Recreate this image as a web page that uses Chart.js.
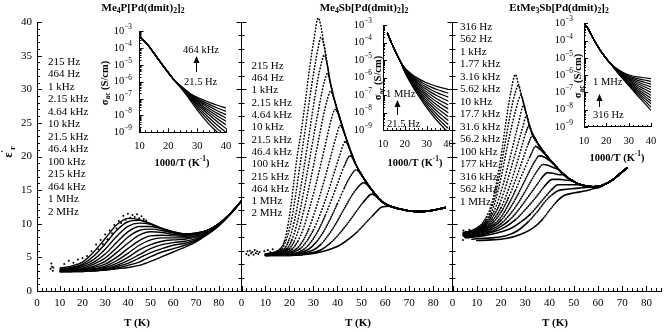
<!DOCTYPE html>
<html>
<head>
<meta charset="utf-8">
<script src="https://cdn.jsdelivr.net/npm/chart.js@4.4.0/dist/chart.umd.min.js"></script>
<style>
  html, body { margin: 0; padding: 0; background: #fff; }
  #wrap { position: relative; width: 665px; height: 332px; }
  #wrap canvas { position: absolute; left: 0; top: 0; }
</style>
</head>
<body>
<div id="wrap">
  <canvas id="main1" width="665" height="332"></canvas>
  <canvas id="main2" width="665" height="332"></canvas>
  <canvas id="main3" width="665" height="332"></canvas>
  <canvas id="inset1" width="665" height="332"></canvas>
  <canvas id="inset2" width="665" height="332"></canvas>
  <canvas id="inset3" width="665" height="332"></canvas>
</div>
<script>
// ---------- shared axis values ----------
const tTicks = [0, 10, 20, 30, 40, 50, 60, 70, 80];
const epsTicks = [0, 5, 10, 15, 20, 25, 30, 35, 40];
const invTTicks = [10, 20, 30, 40];
const sigmaDecades = [-9, -8, -7, -6, -5, -4, -3];

// ---------- Me4P[Pd(dmit)2]2 ----------
const pFreqs = ['215 Hz', '464 Hz', '1 kHz', '2.15 kHz', '4.64 kHz', '10 kHz', '21.5 kHz',
  '46.4 kHz', '100 kHz', '215 kHz', '464 kHz', '1 MHz', '2 MHz'];
const pTemps = [10, 15, 20, 25, 30, 35, 40, 45, 50, 55, 60, 65, 70, 75, 80, 85, 90];
const pEps = [
  [3.4, 3.7, 4.3, 5.8, 7.8, 9.8, 10.8, 10.6, 10.0, 9.3, 8.7, 8.4, 8.5, 9.0, 10.0, 11.5, 13.4],
  [3.3, 3.5, 4.0, 5.2, 7.0, 9.0, 10.3, 10.5, 10.0, 9.3, 8.8, 8.5, 8.6, 9.0, 10.0, 11.5, 13.4],
  [3.2, 3.4, 3.8, 4.7, 6.2, 8.1, 9.6, 10.1, 9.9, 9.3, 8.8, 8.5, 8.6, 9.0, 10.0, 11.5, 13.4],
  [3.1, 3.3, 3.6, 4.3, 5.5, 7.2, 8.8, 9.6, 9.6, 9.2, 8.7, 8.5, 8.6, 9.0, 10.0, 11.5, 13.4],
  [3.1, 3.2, 3.4, 4.0, 4.9, 6.4, 8.0, 9.0, 9.2, 9.0, 8.6, 8.4, 8.5, 9.0, 10.0, 11.5, 13.4],
  [3.0, 3.1, 3.3, 3.7, 4.4, 5.7, 7.1, 8.3, 8.8, 8.7, 8.4, 8.3, 8.5, 9.0, 10.0, 11.5, 13.4],
  [3.0, 3.0, 3.2, 3.5, 4.0, 5.0, 6.3, 7.5, 8.2, 8.3, 8.2, 8.1, 8.4, 8.9, 9.9, 11.5, 13.4],
  [3.0, 3.0, 3.1, 3.3, 3.7, 4.5, 5.6, 6.8, 7.6, 7.9, 7.9, 7.9, 8.2, 8.8, 9.9, 11.5, 13.4],
  [2.9, 3.0, 3.0, 3.2, 3.5, 4.1, 5.0, 6.1, 6.9, 7.4, 7.6, 7.7, 8.0, 8.7, 9.8, 11.4, 13.4],
  [2.9, 2.9, 3.0, 3.1, 3.3, 3.8, 4.5, 5.4, 6.3, 6.9, 7.2, 7.4, 7.8, 8.6, 9.8, 11.4, 13.4],
  [2.9, 2.9, 3.0, 3.0, 3.2, 3.6, 4.1, 4.9, 5.7, 6.3, 6.8, 7.1, 7.6, 8.5, 9.7, 11.4, 13.4],
  [2.9, 2.9, 2.9, 3.0, 3.1, 3.4, 3.8, 4.3, 5.1, 5.8, 6.3, 6.8, 7.5, 8.4, 9.7, 11.4, 13.4],
  [2.9, 2.9, 2.9, 3.0, 3.1, 3.3, 3.5, 3.8, 4.4, 5.1, 5.8, 6.5, 7.3, 8.4, 9.7, 11.4, 13.4]
];
// scattered low-frequency points (noise around the 215 Hz curve and below 8 K)
const pNoise = [[6, 3.3], [6.3, 4.1], [6.6, 3.6], [7, 3.0], [7.2, 3.5], [12, 4.0], [14, 4.5], [16, 4.2],
  [18, 4.7], [20, 4.9], [22, 5.2], [24, 5.9], [26, 6.9], [27, 6.2], [28, 7.6], [29, 7.0], [30, 8.4],
  [31, 7.7], [32, 9.0], [33, 8.6], [34, 9.8], [35, 9.3], [36, 10.4], [37, 10.1], [38, 11.2], [39, 10.6],
  [40, 11.5], [41, 10.9], [42, 11.3], [43, 11.0], [44, 11.4], [45, 10.8], [46, 11.1], [47, 10.7], [48, 10.5]];
const pInvT = [10, 13, 16, 19, 22, 25, 28, 31, 34, 37, 40];
const pLogSigma = [
  [-3.30, -3.85, -4.55, -5.25, -5.90, -6.50, -7.20, -7.90, -8.50, -9.00, -9.50],
  [-3.30, -3.85, -4.55, -5.25, -5.90, -6.48, -7.12, -7.75, -8.30, -8.80, -9.25],
  [-3.30, -3.85, -4.55, -5.25, -5.90, -6.46, -7.05, -7.62, -8.12, -8.58, -9.00],
  [-3.30, -3.85, -4.55, -5.25, -5.90, -6.45, -7.00, -7.50, -7.95, -8.38, -8.78],
  [-3.30, -3.85, -4.55, -5.25, -5.90, -6.43, -6.95, -7.40, -7.82, -8.20, -8.55],
  [-3.30, -3.85, -4.55, -5.25, -5.90, -6.42, -6.90, -7.32, -7.70, -8.04, -8.35],
  [-3.30, -3.85, -4.55, -5.25, -5.90, -6.40, -6.86, -7.24, -7.57, -7.88, -8.15],
  [-3.30, -3.85, -4.55, -5.25, -5.90, -6.38, -6.82, -7.16, -7.45, -7.72, -7.96],
  [-3.30, -3.85, -4.55, -5.25, -5.90, -6.37, -6.78, -7.08, -7.33, -7.56, -7.76],
  [-3.30, -3.85, -4.55, -5.25, -5.90, -6.35, -6.74, -7.00, -7.21, -7.40, -7.56]
];

// ---------- Me4Sb[Pd(dmit)2]2 ----------
const sbFreqs = ['215 Hz', '464 Hz', '1 kHz', '2.15 kHz', '4.64 kHz', '10 kHz', '21.5 kHz',
  '46.4 kHz', '100 kHz', '215 kHz', '464 kHz', '1 MHz', '2 MHz'];
// [T, eps] from 10 K up to each peak
const sbRise = [
  [[10, 5.5], [14, 5.8], [16, 6.2], [18, 7.5], [20.2, 11.6], [21.6, 15.5], [23, 19.5], [24.8, 23.5], [26.7, 28.4], [28.5, 33.4], [30.2, 37.4], [32, 40.6]],
  [[10, 5.5], [14, 5.7], [17, 6.3], [19, 8.0], [21, 10.8], [22.8, 14.8], [24.5, 19.0], [26.5, 23.8], [28.5, 28.8], [30.5, 33.3], [32, 36.2], [33.1, 37.7]],
  [[10, 5.5], [15, 5.7], [18, 6.3], [20, 7.8], [22, 10.3], [24, 14.0], [26, 18.2], [28, 22.8], [30, 27.5], [32, 31.8], [33.4, 34.0], [34.4, 35.1]],
  [[10, 5.4], [15, 5.6], [19, 6.3], [21, 7.6], [23, 9.8], [25, 13.0], [27, 16.8], [29, 20.8], [31, 24.8], [33, 28.6], [34.6, 31.2], [35.8, 32.3]],
  [[10, 5.4], [16, 5.6], [20, 6.3], [22, 7.4], [24, 9.3], [26, 12.0], [28, 15.2], [30, 18.6], [32, 22.2], [34, 25.8], [35.8, 28.5], [37.1, 29.7]],
  [[10, 5.4], [16, 5.5], [21, 6.2], [23.5, 7.4], [26, 9.5], [28.5, 12.5], [31, 15.8], [33.5, 19.5], [35.5, 22.6], [37.5, 25.6], [39, 27.0]],
  [[10, 5.4], [17, 5.5], [23, 6.3], [25.5, 7.4], [28, 9.2], [30.5, 11.7], [33, 14.6], [35.5, 17.7], [37.5, 20.4], [39.5, 23.0], [41.1, 24.6]],
  [[10, 5.4], [18, 5.5], [24.5, 6.3], [27, 7.3], [30, 9.1], [33, 11.6], [36, 14.6], [38.5, 17.4], [41, 20.2], [43.2, 22.2]],
  [[10, 5.3], [19, 5.4], [26, 6.2], [29, 7.3], [32, 9.0], [35, 11.3], [38, 14.0], [40.5, 16.4], [43, 18.7], [45.3, 20.1]],
  [[10, 5.3], [20, 5.4], [28, 6.2], [31, 7.2], [34, 8.7], [37, 10.7], [40, 13.0], [43, 15.4], [45.5, 17.1], [47.7, 18.0]],
  [[10, 5.3], [20, 5.4], [30, 6.1], [33, 6.9], [36, 8.2], [39, 9.8], [42, 11.7], [45, 13.6], [48, 15.2], [50.9, 16.1]],
  [[10, 5.3], [20, 5.3], [28, 5.6], [33, 6.1], [37, 7.1], [41, 8.6], [45, 10.4], [48, 11.9], [51, 13.3], [54.4, 14.4]],
  [[10, 5.3], [20, 5.3], [30, 5.6], [36, 6.1], [41, 6.8], [45, 7.8], [48, 8.7], [52, 10.2], [55, 11.3], [58.6, 12.5]]
];
// common high-temperature side that all curves fall onto after their peak
const sbTail = [[33, 39.6], [34.4, 36.6], [35.8, 33.6], [37.1, 30.9], [39, 28.1], [41.1, 25.6], [43.2, 23.2],
  [45.3, 21.0], [47.7, 18.8], [50.9, 16.8], [54.4, 15.0], [58.6, 13.3], [62, 12.6], [66, 12.2], [70, 11.9],
  [75, 11.8], [80, 12.0], [85, 12.4]];
const sbNoise = [[2, 5.5], [2.5, 5.9], [3, 5.3], [3.5, 6.0], [4, 5.6], [4.5, 5.8], [5, 5.4], [5.5, 6.1],
  [6, 5.6], [6.5, 5.9], [7, 5.5], [7.5, 5.8], [9.5, 5.9], [11, 6.1], [12, 5.8], [13, 6.2], [15, 6.0]];
const sbInvT = [12, 14, 16, 18, 20, 23, 26, 29, 32, 35, 38, 40];
const sbLogSigma = [
  [-3.45, -4.05, -4.60, -5.10, -5.70, -6.40, -7.00, -7.55, -8.05, -8.50, -8.90, -9.15],
  [-3.45, -4.05, -4.60, -5.10, -5.67, -6.32, -6.91, -7.43, -7.90, -8.32, -8.69, -8.92],
  [-3.45, -4.05, -4.60, -5.10, -5.64, -6.25, -6.82, -7.31, -7.75, -8.14, -8.48, -8.70],
  [-3.45, -4.05, -4.60, -5.10, -5.62, -6.20, -6.73, -7.19, -7.60, -7.96, -8.27, -8.47],
  [-3.45, -4.05, -4.60, -5.10, -5.60, -6.15, -6.65, -7.08, -7.45, -7.78, -8.06, -8.25],
  [-3.45, -4.05, -4.60, -5.10, -5.57, -6.10, -6.56, -6.96, -7.30, -7.60, -7.86, -8.02],
  [-3.45, -4.05, -4.60, -5.10, -5.55, -6.05, -6.48, -6.84, -7.15, -7.42, -7.65, -7.80],
  [-3.45, -4.05, -4.60, -5.10, -5.53, -6.00, -6.39, -6.72, -7.00, -7.24, -7.44, -7.57],
  [-3.45, -4.05, -4.60, -5.10, -5.51, -5.95, -6.31, -6.60, -6.85, -7.06, -7.24, -7.35],
  [-3.45, -4.05, -4.60, -5.10, -5.49, -5.90, -6.22, -6.49, -6.70, -6.88, -7.03, -7.12],
  [-3.45, -4.05, -4.60, -5.10, -5.47, -5.85, -6.14, -6.37, -6.55, -6.70, -6.82, -6.90],
  [-3.45, -4.05, -4.60, -5.10, -5.45, -5.80, -6.05, -6.25, -6.40, -6.52, -6.62, -6.68]
];

// ---------- EtMe3Sb[Pd(dmit)2]2 ----------
const etFreqs = ['316 Hz', '562 Hz', '1 kHz', '1.77 kHz', '3.16 kHz', '5.62 kHz', '10 kHz', '17.7 kHz',
  '31.6 kHz', '56.2 kHz', '100 kHz', '177 kHz', '316 kHz', '562 kHz', '1 MHz'];
const etRise = [
  [[4.5, 8.7], [8, 9.0], [11, 9.6], [14, 11.0], [16, 12.8], [18, 15.8], [20, 20.0], [22, 25.0], [24, 29.5], [26, 32.2]],
  [[4.5, 8.6], [8, 8.9], [11, 9.4], [14, 10.6], [16, 12.2], [18, 14.8], [20, 18.4], [22, 22.6], [24, 26.6], [25.8, 29.4], [27.3, 30.6]],
  [[4.5, 8.6], [8, 8.8], [11, 9.3], [14, 10.3], [16, 11.6], [18, 13.8], [20, 16.8], [22, 20.4], [24, 23.8], [26, 26.8], [28.3, 29.1]],
  [[4.5, 8.5], [8, 8.7], [11, 9.2], [14, 10.0], [17, 11.8], [19, 13.6], [21, 16.0], [23, 18.8], [25, 21.7], [27, 24.6], [29.4, 27.6]],
  [[4.5, 8.5], [8, 8.7], [11, 9.1], [14, 9.8], [17, 11.2], [19.5, 13.0], [22, 15.6], [24.5, 18.7], [27, 21.9], [29, 24.4], [30.5, 26.1]],
  [[4.5, 8.4], [8, 8.6], [11, 9.0], [14, 9.6], [17, 10.7], [20, 12.4], [23, 15.0], [26, 18.3], [28.5, 21.4], [30.3, 23.6], [31.6, 24.6]],
  [[4.5, 8.4], [8, 8.6], [11, 8.9], [14, 9.4], [17, 10.3], [20, 11.7], [23, 13.8], [26, 16.5], [29, 19.6], [31.2, 21.8], [32.9, 23.0], [34.3, 22.3]],
  [[4.5, 8.3], [8, 8.5], [11, 8.8], [14, 9.2], [17, 9.9], [20, 11.0], [23, 12.8], [26, 15.0], [29, 17.6], [32, 20.0], [34.3, 21.5], [36, 21.1], [38, 20.4]],
  [[4.5, 8.3], [8, 8.4], [11, 8.7], [14, 9.0], [17, 9.6], [20, 10.5], [23, 11.9], [26, 13.7], [29, 15.8], [32, 18.0], [34, 19.3], [35.8, 20.1], [38, 19.9], [40, 19.4]],
  [[4.5, 8.2], [8, 8.3], [11, 8.6], [14, 8.9], [17, 9.3], [20, 10.0], [23, 11.1], [26, 12.5], [29, 14.2], [32, 16.1], [35, 17.9], [37.4, 18.8], [40, 18.6], [42, 18.3]],
  [[5, 8.1], [8, 8.2], [11, 8.4], [14, 8.7], [17, 9.0], [20, 9.6], [23, 10.4], [26, 11.5], [29, 12.9], [32, 14.4], [35, 15.9], [37, 16.9], [39.2, 17.6], [41.5, 17.5], [44, 17.3]],
  [[5, 8.0], [8, 8.1], [11, 8.3], [14, 8.5], [17, 8.8], [20, 9.2], [23, 9.8], [26, 10.6], [29, 11.7], [32, 12.9], [35, 14.2], [38, 15.6], [41.2, 16.6], [44, 16.6], [46.5, 16.5], [49, 16.4]],
  [[5.5, 7.9], [8, 8.0], [11, 8.1], [14, 8.3], [17, 8.5], [20, 8.8], [24, 9.3], [28, 10.2], [32, 11.4], [35, 12.6], [38, 13.9], [41, 15.1], [43.5, 15.8], [46, 15.8], [49, 15.8], [52, 15.8]],
  [[8, 7.7], [11, 7.8], [16, 7.9], [22, 8.2], [27, 9.0], [31, 10.2], [35, 11.8], [38, 13.2], [41, 14.3], [43.5, 14.9], [46.2, 15.1], [49, 15.2], [52, 15.3], [55, 15.4]],
  [[10, 7.5], [16, 7.6], [22, 7.8], [28, 8.4], [33, 9.3], [37, 10.6], [40, 12.0], [43, 13.3], [46, 14.2], [50.5, 14.6], [55, 14.9], [58, 15.2], [60.5, 15.4]]
];
const etTail = [[27, 31.0], [28.3, 29.3], [29.4, 27.8], [30.5, 26.3], [31.6, 24.8], [32.9, 23.4], [34.3, 22.5],
  [36, 21.5], [38, 20.5], [40, 19.6], [42, 18.8], [44, 18.0], [46, 17.3], [48, 16.7], [50, 16.3], [52, 15.9],
  [55, 15.6], [58, 15.5], [61, 15.6], [63, 15.9], [65, 16.3], [67, 16.8], [69, 17.4], [72, 18.3]];
const etNoise = [[4.3, 7.6], [4.5, 9.0], [5, 8.2], [5.5, 8.8], [6, 8.0], [6.5, 8.6], [7, 9.1]];
const etInvT = [10, 12, 14, 16, 18, 20, 22, 25, 28, 31, 34, 37, 40];
const etLogSigma = [
  [-3.00, -3.35, -3.85, -4.30, -4.70, -5.05, -5.35, -5.85, -6.30, -6.75, -7.20, -7.60, -8.05],
  [-3.00, -3.35, -3.85, -4.30, -4.70, -5.05, -5.35, -5.83, -6.27, -6.70, -7.10, -7.46, -7.85],
  [-3.00, -3.35, -3.85, -4.30, -4.70, -5.05, -5.35, -5.82, -6.24, -6.64, -7.00, -7.33, -7.65],
  [-3.00, -3.35, -3.85, -4.30, -4.70, -5.05, -5.35, -5.80, -6.20, -6.57, -6.90, -7.20, -7.49],
  [-3.00, -3.35, -3.85, -4.30, -4.70, -5.05, -5.35, -5.78, -6.16, -6.50, -6.80, -7.07, -7.33],
  [-3.00, -3.35, -3.85, -4.30, -4.70, -5.05, -5.35, -5.77, -6.12, -6.43, -6.70, -6.94, -7.17],
  [-3.00, -3.35, -3.85, -4.30, -4.70, -5.05, -5.35, -5.75, -6.08, -6.37, -6.60, -6.80, -7.00],
  [-3.00, -3.35, -3.85, -4.30, -4.70, -5.05, -5.35, -5.73, -6.04, -6.30, -6.50, -6.67, -6.84],
  [-3.00, -3.35, -3.85, -4.30, -4.70, -5.05, -5.35, -5.71, -6.00, -6.23, -6.40, -6.54, -6.68],
  [-3.00, -3.35, -3.85, -4.30, -4.70, -5.05, -5.35, -5.69, -5.96, -6.16, -6.30, -6.41, -6.52],
  [-3.00, -3.35, -3.85, -4.30, -4.70, -5.05, -5.35, -5.67, -5.92, -6.09, -6.20, -6.28, -6.36],
  [-3.00, -3.35, -3.85, -4.30, -4.70, -5.05, -5.35, -5.65, -5.88, -6.02, -6.10, -6.15, -6.20]
];

// ---------- helpers ----------
const serif = "'Liberation Serif', 'Times New Roman', serif";
const CW = 665, CH = 332;

function toXY(pairs) {
  return pairs.map(p => ({ x: p[0], y: p[1] }));
}

// rising side up to the peak, then the shared high-T side
function withTail(rise, tail) {
  const last = rise[rise.length - 1][0];
  return rise.concat(tail.filter(p => p[0] > last + 0.9));
}

// measured points are spaced evenly in T, so steep stretches read as separate dots
function dotsWhenSteep(ctx) {
  const dx = Math.abs(ctx.p1.x - ctx.p0.x);
  const dy = Math.abs(ctx.p1.y - ctx.p0.y);
  const r = dy / Math.max(dx, 0.1);
  if (r > 2.2) return [0.4, 2.8];
  if (r > 1.0) return [0.6, 1.7];
  return [];
}

function lineSet(label, pairs, style) {
  return Object.assign({
    label: label,
    data: toXY(pairs),
    borderColor: '#000',
    borderWidth: 1.3,
    pointRadius: 0,
    fill: false,
    cubicInterpolationMode: 'monotone',
    clip: false
  }, style || {});
}

function dotSet(label, pairs) {
  return {
    label: label,
    type: 'scatter',
    data: toXY(pairs),
    pointRadius: 1,
    pointBackgroundColor: '#000',
    pointBorderWidth: 0,
    showLine: false,
    clip: false
  };
}

// text with sub/superscript parts: [[text, 'sub'|'sup'|undefined], ...]
function drawRich(ctx, x, y, parts, size, weight, align) {
  const fontFor = s => (weight || 'normal') + ' ' + s + 'px ' + serif;
  let w = 0;
  parts.forEach(([t, m]) => { ctx.font = fontFor(m ? size * 0.7 : size); w += ctx.measureText(t).width; });
  let cx = align === 'center' ? x - w / 2 : align === 'right' ? x - w : x;
  ctx.textAlign = 'left';
  ctx.textBaseline = 'middle';
  parts.forEach(([t, m]) => {
    const s = m ? size * 0.7 : size;
    ctx.font = fontFor(s);
    const dy = m === 'sub' ? size * 0.3 : m === 'sup' ? -size * 0.38 : 0;
    ctx.fillText(t, cx, y + dy);
    cx += ctx.measureText(t).width;
  });
}

// inward tick marks, extra labels, arrows
const decor = {
  id: 'decor',
  afterDraw(chart, args, o) {
    const ctx = chart.ctx;
    const xs = chart.scales.x, ys = chart.scales.y;
    const a = chart.chartArea;
    ctx.save();
    ctx.strokeStyle = '#000';
    ctx.fillStyle = '#000';
    ctx.lineWidth = 1;
    ctx.beginPath();
    for (let v = xs.min; v <= xs.max + 1e-6; v += o.xStep) {
      const px = Math.round(xs.getPixelForValue(v)) + 0.5;
      const len = Math.abs(v % o.xMajor) < 1e-6 ? o.majorLen : o.minorLen;
      ctx.moveTo(px, a.bottom);
      ctx.lineTo(px, a.bottom - len);
    }
    const yTick = (v, len) => {
      const py = Math.round(ys.getPixelForValue(v)) + 0.5;
      ctx.moveTo(a.left, py);
      ctx.lineTo(a.left + len, py);
      if (o.bothSides) { ctx.moveTo(a.left, py); ctx.lineTo(a.left - len, py); }
    };
    if (o.logY) {
      sigmaDecades.forEach((d, i) => {
        yTick(Math.pow(10, d), o.majorLen);
        if (i < sigmaDecades.length - 1) {
          for (let m = 2; m <= 9; m++) yTick(m * Math.pow(10, d), o.minorLen);
        }
      });
    } else {
      for (let v = ys.min; v <= ys.max + 1e-6; v += o.yStep) {
        yTick(v, Math.abs(v % o.yMajor) < 1e-6 ? o.majorLen : o.minorLen);
      }
    }
    ctx.stroke();

    if (o.logY) {
      sigmaDecades.forEach(d => {
        const py = ys.getPixelForValue(Math.pow(10, d));
        drawRich(ctx, o.labelRight, py, [['10'], ['\u2212' + (-d), 'sup']], 10.5, 'normal', 'right');
      });
    }

    (o.texts || []).forEach(t => {
      if (t.rot) {
        ctx.save();
        ctx.translate(t.x, t.y);
        ctx.rotate(-Math.PI / 2);
        drawRich(ctx, 0, 0, t.parts, t.size, t.weight, t.align || 'center');
        ctx.restore();
      } else {
        drawRich(ctx, t.x, t.y, t.parts, t.size, t.weight, t.align || 'left');
      }
    });

    (o.arrows || []).forEach(([x, y0, y1]) => {
      ctx.beginPath();
      ctx.moveTo(x + 0.5, y0);
      ctx.lineTo(x + 0.5, y1 + 5);
      ctx.stroke();
      ctx.beginPath();
      ctx.moveTo(x + 0.5, y1);
      ctx.lineTo(x - 2.5, y1 + 7);
      ctx.lineTo(x + 3.5, y1 + 7);
      ctx.closePath();
      ctx.fill();
    });
    ctx.restore();
  }
};

function freqTexts(list, x, y0, step) {
  return list.map((f, i) => ({ x: x, y: y0 + i * step, parts: [[f]], size: 11 }));
}

function mainChart(id, box, xMax, datasets, showY, texts) {
  return new Chart(document.getElementById(id), {
    type: 'line',
    data: { datasets: datasets },
    plugins: [decor],
    options: {
      responsive: false,
      animation: false,
      devicePixelRatio: 1,
      events: [],
      layout: { padding: { left: showY ? 0 : box.left, right: CW - box.right, top: box.top, bottom: 0 } },
      plugins: {
        legend: { display: false },
        tooltip: { enabled: false },
        decor: { xStep: 2, xMajor: 10, yStep: showY ? 1 : 2, yMajor: showY ? 5 : 10,
          majorLen: 5, minorLen: 3, bothSides: !showY, texts: texts }
      },
      scales: {
        x: {
          type: 'linear', min: 0, max: xMax,
          afterFit: s => { s.height = CH - box.bottom; },
          afterBuildTicks: s => { s.ticks = tTicks.map(v => ({ value: v })); },
          grid: { display: false, drawTicks: false, tickLength: 0 },
          border: { display: true, color: '#000', width: 1 },
          ticks: { padding: 6, color: '#000', font: { family: serif, size: 11 }, maxRotation: 0, autoSkip: false }
        },
        y: {
          type: 'linear', min: 0, max: 40,
          afterFit: s => { s.width = showY ? box.left : 0; },
          afterBuildTicks: s => { s.ticks = epsTicks.map(v => ({ value: v })); },
          grid: { display: false, drawTicks: false, tickLength: 0 },
          border: { display: true, color: '#000', width: 1 },
          ticks: { display: showY, padding: 5, color: '#000', font: { family: serif, size: 11 } }
        }
      }
    }
  });
}

function insetChart(id, box, invT, logSig, labelRight, texts, arrows) {
  const datasets = logSig.map((row, k) => ({
    label: 'c' + k,
    data: invT.map((x, i) => ({ x: x, y: Math.pow(10, row[i]) })),
    borderColor: '#000',
    borderWidth: 1.2,
    pointRadius: 0,
    fill: false,
    cubicInterpolationMode: 'monotone'
  }));
  return new Chart(document.getElementById(id), {
    type: 'line',
    data: { datasets: datasets },
    plugins: [decor],
    options: {
      responsive: false,
      animation: false,
      devicePixelRatio: 1,
      events: [],
      layout: { padding: { left: box.left - 30, right: CW - box.right, top: box.top, bottom: CH - box.bottom - 22 } },
      plugins: {
        legend: { display: false },
        tooltip: { enabled: false },
        decor: { xStep: 2, xMajor: 10, logY: true, majorLen: 4, minorLen: 2,
          labelRight: labelRight, texts: texts, arrows: arrows }
      },
      scales: {
        x: {
          type: 'linear', min: 10, max: 40,
          afterFit: s => { s.height = 22; },
          afterBuildTicks: s => { s.ticks = invTTicks.map(v => ({ value: v })); },
          grid: { display: false, drawTicks: false, tickLength: 0 },
          border: { display: true, color: '#000', width: 1 },
          ticks: { padding: 8, color: '#000', font: { family: serif, size: 10.5 }, maxRotation: 0, autoSkip: false }
        },
        y: {
          type: 'logarithmic', min: 1e-9, max: 1e-3,
          afterFit: s => { s.width = 30; },
          grid: { display: false, drawTicks: false, tickLength: 0 },
          border: { display: true, color: '#000', width: 1 },
          ticks: { display: false }
        }
      }
    }
  });
}

const sigmaTitle = [['\u03c3'], ['ac', 'sub'], [' (S/cm)']];
const invTTitle = [['1000/T (K'], ['-1', 'sup'], [')']];
const epsTitle = [['\u03b5'], ['\u2032', 'sup'], ['r', 'sub']];
const dotted = { borderWidth: 1.6, borderCapStyle: 'round', segment: { borderDash: dotsWhenSteep } };

// ---------- panel 1 ----------
const box1 = { left: 37, right: 241.5, top: 22, bottom: 291 };
mainChart('main1', box1, 90,
  pEps.map((row, k) => lineSet(pFreqs[k], pTemps.map((t, i) => [t, row[i]]), { borderWidth: 1.4 }))
    .concat([dotSet('noise', pNoise)]),
  true,
  freqTexts(pFreqs, 48, 62, 12.5).concat([
    { x: 143, y: 8, parts: [['Me'], ['4', 'sub'], ['P[Pd(dmit)'], ['2', 'sub'], [']'], ['2', 'sub']], size: 11, weight: 'bold', align: 'center' },
    { x: 137, y: 323, parts: [['T (K)']], size: 11, weight: 'bold', align: 'center' },
    { x: 9, y: 152, parts: epsTitle, size: 12, weight: 'bold', rot: true }
  ]));

// ---------- panel 2 ----------
const box2 = { left: 241.5, right: 452.5, top: 22, bottom: 291 };
mainChart('main2', box2, 88,
  sbRise.map((rise, k) => lineSet(sbFreqs[k], withTail(rise, sbTail), dotted))
    .concat([dotSet('noise', sbNoise)]),
  false,
  freqTexts(sbFreqs, 251.5, 66, 12.3).concat([
    { x: 364, y: 8, parts: [['Me'], ['4', 'sub'], ['Sb[Pd(dmit)'], ['2', 'sub'], [']'], ['2', 'sub']], size: 11, weight: 'bold', align: 'center' },
    { x: 358, y: 323, parts: [['T (K)']], size: 11, weight: 'bold', align: 'center' }
  ]));

// ---------- panel 3 ----------
const box3 = { left: 452.5, right: 664.5, top: 22, bottom: 291 };
mainChart('main3', box3, 86,
  etRise.map((rise, k) => lineSet(etFreqs[k], withTail(rise, etTail), dotted))
    .concat([dotSet('noise', etNoise)]),
  false,
  freqTexts(etFreqs, 460, 26.7, 12.5).concat([
    { x: 559, y: 8, parts: [['EtMe'], ['3', 'sub'], ['Sb[Pd(dmit)'], ['2', 'sub'], [']'], ['2', 'sub']], size: 11, weight: 'bold', align: 'center' },
    { x: 555, y: 323, parts: [['T (K)']], size: 11, weight: 'bold', align: 'center' }
  ]));

// ---------- insets ----------
insetChart('inset1', { left: 139.5, right: 226, top: 31, bottom: 132.3 }, pInvT, pLogSigma, 132, [
  { x: 105, y: 83, parts: sigmaTitle, size: 10.5, weight: 'bold', rot: true },
  { x: 182, y: 163, parts: invTTitle, size: 10.5, weight: 'bold', align: 'center' },
  { x: 183, y: 50, parts: [['464 kHz']], size: 10.5 },
  { x: 184, y: 82, parts: [['21.5 Hz']], size: 10.5 }
], [[196, 72, 56]]);

insetChart('inset2', { left: 383, right: 448.5, top: 25, bottom: 130 }, sbInvT, sbLogSigma, 372, [
  { x: 378.5, y: 78, parts: sigmaTitle, size: 10.5, weight: 'bold', rot: true },
  { x: 415, y: 163, parts: invTTitle, size: 10.5, weight: 'bold', align: 'center' },
  { x: 386, y: 94.5, parts: [['1 MHz']], size: 10.5 },
  { x: 387, y: 124, parts: [['21.5 Hz']], size: 10.5 }
], [[397, 115, 100]]);

insetChart('inset3', { left: 584, right: 651, top: 23.3, bottom: 127 }, etInvT, etLogSigma, 573, [
  { x: 578.5, y: 76, parts: sigmaTitle, size: 10.5, weight: 'bold', rot: true },
  { x: 617, y: 158, parts: invTTitle, size: 10.5, weight: 'bold', align: 'center' },
  { x: 593, y: 82.5, parts: [['1 MHz']], size: 10.5 },
  { x: 593, y: 115, parts: [['316 Hz']], size: 10.5 }
], [[599, 107, 94]]);
</script>
</body>
</html>
